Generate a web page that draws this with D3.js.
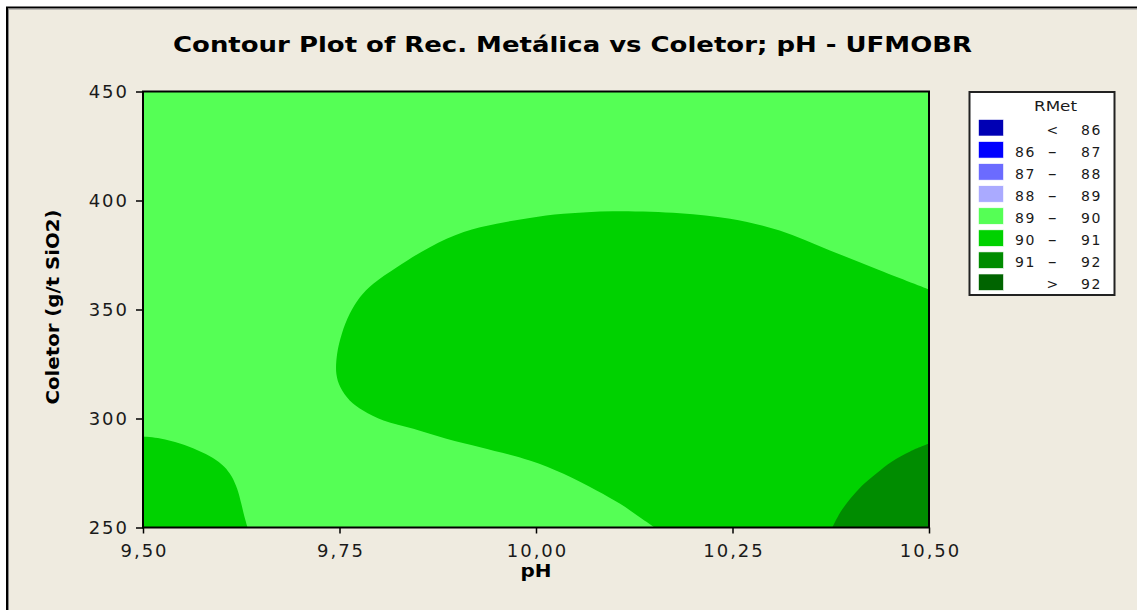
<!DOCTYPE html>
<html>
<head>
<meta charset="utf-8">
<script src="https://cdn.jsdelivr.net/npm/d3@7"></script>
<style>
  html, body { margin: 0; padding: 0; background: #ffffff; }
  svg { display: block; }
</style>
</head>
<body>
<svg id="chart" width="1137" height="610"></svg>
<script>
// ---- data -------------------------------------------------------------
const phTicks = [9.5, 9.75, 10.0, 10.25, 10.5];
const coletorTicks = [250, 300, 350, 400, 450];

// contour level breaks and the fill used for each band
const rmetBreaks = [86, 87, 88, 89, 90, 91, 92];
const rmetColors = ["#0000b4", "#0000ff", "#6b6bff", "#aaaaff",
                    "#55ff55", "#00d200", "#008c00", "#006400"];
const legendLow  = ["",  "86", "87", "88", "89", "90", "91", ""];
const legendSign = ["<", "–",  "–",  "–",  "–",  "–",  "–",  ">"];
const legendHigh = ["86", "87", "88", "89", "90", "91", "92", "92"];

// RMet value of the band that covers the rest of the plot
const baseLevel = 89.5;

// 90–91 band, lower-left corner: boundary [pH, coletor]
const band90LeftEdge = [
  [9.500, 291.7], [9.522, 290.8], [9.547, 288.5], [9.570, 285.3],
  [9.589, 281.9], [9.603, 278.0], [9.613, 273.3], [9.620, 267.5],
  [9.625, 261.0], [9.629, 255.0], [9.633, 250.0]
];
const band90LeftCorners = [[9.5, 250]];

// 90–91 band, large central lobe: boundary [pH, coletor]
const band90MainEdge = [
  [10.500, 359.2], [10.438, 367.9], [10.374, 377.1], [10.310, 386.2],
  [10.247, 391.6], [10.183, 394.2], [10.098, 395.1], [10.035, 393.9],
  [9.992, 392.0], [9.950, 389.3], [9.908, 385.5], [9.865, 378.6],
  [9.823, 369.4], [9.793, 361.8], [9.776, 355.6], [9.763, 348.0],
  [9.753, 338.9], [9.747, 329.7], [9.746, 320.5], [9.751, 314.4],
  [9.763, 308.3], [9.780, 303.7], [9.806, 299.1], [9.844, 295.3],
  [9.886, 290.7], [9.929, 286.8], [9.992, 280.7], [10.035, 274.6],
  [10.077, 267.0], [10.107, 260.9], [10.132, 254.7], [10.151, 250.0]
];
const band90MainCorners = [[10.5, 250]];

// 91–92 band, lower-right corner: boundary [pH, coletor]
const band91Edge = [
  [10.377, 250.0], [10.387, 256.9], [10.400, 263.3], [10.415, 269.3],
  [10.433, 274.8], [10.453, 280.3], [10.476, 284.9], [10.500, 288.5]
];
const band91Corners = [[10.5, 250]];

const bands = [
  { level: 90.5, edge: band90LeftEdge, corners: band90LeftCorners },
  { level: 90.5, edge: band90MainEdge, corners: band90MainCorners },
  { level: 91.5, edge: band91Edge,     corners: band91Corners }
];

// ---- layout -----------------------------------------------------------
const W = 1137, H = 610;
const plot = { left: 143, right: 929, top: 91.5, bottom: 527.5 };
const bg = "#efebe0";

const svg = d3.select("#chart");

// page frame
svg.append("rect")
  .attr("x", 7).attr("y", 7.5)
  .attr("width", W + 20).attr("height", H + 20)
  .attr("fill", bg)
  .attr("stroke", "#000").attr("stroke-width", 2);
svg.append("path")
  .attr("d", `M8.5,${H + 5}V9H${W + 5}`)
  .attr("fill", "none").attr("stroke", "#8a8a8a").attr("stroke-width", 1);

const x = d3.scaleLinear().domain([9.5, 10.5]).range([plot.left, plot.right]);
const y = d3.scaleLinear().domain([250, 450]).range([plot.bottom, plot.top]);
const color = d3.scaleThreshold().domain(rmetBreaks).range(rmetColors);

// title
svg.append("text")
  .attr("x", 173).attr("y", 52)
  .attr("textLength", 799).attr("lengthAdjust", "spacingAndGlyphs")
  .style("font-family", "'DejaVu Sans', Verdana, sans-serif")
  .style("font-weight", "bold").style("font-size", "22px")
  .attr("fill", "#000")
  .text("Contour Plot of Rec. Metálica vs Coletor; pH - UFMOBR");

// ---- contour fill -----------------------------------------------------
svg.append("clipPath").attr("id", "plot-clip")
  .append("rect")
  .attr("x", plot.left).attr("y", plot.top)
  .attr("width", plot.right - plot.left).attr("height", plot.bottom - plot.top);

const fillG = svg.append("g").attr("clip-path", "url(#plot-clip)");

fillG.append("rect")
  .attr("x", plot.left).attr("y", plot.top)
  .attr("width", plot.right - plot.left).attr("height", plot.bottom - plot.top)
  .attr("fill", color(baseLevel));

const edgeLine = d3.line()
  .x(d => x(d[0])).y(d => y(d[1]))
  .curve(d3.curveCatmullRom.alpha(0.5));

fillG.selectAll("path.band")
  .data(bands)
  .join("path")
  .attr("class", "band")
  .attr("fill", d => color(d.level))
  .attr("d", d => edgeLine(d.edge) +
    d.corners.map(c => `L${x(c[0])},${y(c[1])}`).join("") + "Z");

// ---- axes -------------------------------------------------------------
const tickFont = "'DejaVu Sans', Verdana, sans-serif";

const xAxis = svg.append("g")
  .attr("transform", `translate(0,${plot.bottom})`)
  .call(d3.axisBottom(x)
    .tickValues(phTicks)
    .tickSize(6).tickSizeOuter(0)
    .tickFormat(d => d3.format(".2f")(d).replace(".", ",")));
xAxis.select(".domain").remove();
xAxis.selectAll(".tick line").attr("stroke", "#000").attr("stroke-width", 1.5);
xAxis.selectAll(".tick text")
  .attr("y", 29.5).attr("dy", 0).attr("dx", 1)
  .attr("fill", "#1a1a1a")
  .style("font-family", tickFont).style("font-size", "18px")
  .style("letter-spacing", "2px");

const yAxis = svg.append("g")
  .attr("transform", `translate(${plot.left},0)`)
  .call(d3.axisLeft(y)
    .tickValues(coletorTicks)
    .tickSize(7).tickSizeOuter(0).tickPadding(7)
    .tickFormat(d3.format("d")));
yAxis.select(".domain").remove();
yAxis.selectAll(".tick line").attr("stroke", "#000").attr("stroke-width", 1.5);
yAxis.selectAll(".tick text")
  .attr("dy", "0.36em")
  .attr("fill", "#1a1a1a")
  .style("font-family", tickFont).style("font-size", "18px")
  .style("letter-spacing", "2px");

// plot frame
svg.append("rect")
  .attr("x", plot.left).attr("y", plot.top)
  .attr("width", plot.right - plot.left).attr("height", plot.bottom - plot.top)
  .attr("fill", "none").attr("stroke", "#000").attr("stroke-width", 2);

// axis titles
svg.append("text")
  .attr("x", (plot.left + plot.right) / 2).attr("y", 577)
  .attr("text-anchor", "middle")
  .attr("textLength", 31).attr("lengthAdjust", "spacingAndGlyphs")
  .style("font-family", tickFont).style("font-weight", "bold").style("font-size", "17px")
  .text("pH");

svg.append("text")
  .attr("transform", "translate(59,307) rotate(-90)")
  .attr("text-anchor", "middle")
  .attr("textLength", 195).attr("lengthAdjust", "spacingAndGlyphs")
  .style("font-family", tickFont).style("font-weight", "bold").style("font-size", "17px")
  .text("Coletor (g/t SiO2)");

// ---- legend -----------------------------------------------------------
const legend = svg.append("g");
legend.append("rect")
  .attr("x", 969.5).attr("y", 92).attr("width", 145).attr("height", 203)
  .attr("fill", "#ffffff").attr("stroke", "#222").attr("stroke-width", 2);

legend.append("text")
  .attr("x", 1055.5).attr("y", 111).attr("text-anchor", "middle")
  .attr("textLength", 43).attr("lengthAdjust", "spacingAndGlyphs")
  .style("font-family", tickFont).style("font-size", "14px")
  .attr("fill", "#1a1a1a")
  .text("RMet");

const rowStep = 22.07;
const rows = legend.selectAll("g.row")
  .data(rmetColors)
  .join("g")
  .attr("class", "row")
  .attr("transform", (d, i) => `translate(0,${i * rowStep})`);

rows.append("rect")
  .attr("x", 978.5).attr("y", 119.5).attr("width", 25).attr("height", 16.5)
  .attr("fill", d => d)
  .attr("stroke", "#ffffff").attr("stroke-width", 0.6);

const legendText = (sel) => sel
  .style("font-family", tickFont).style("font-size", "14px")
  .style("letter-spacing", "1.5px")
  .attr("fill", "#1a1a1a");

rows.append("text")
  .attr("x", 1015).attr("y", 134.5)
  .call(legendText)
  .text((d, i) => legendLow[i]);
rows.append("text")
  .attr("x", 1053).attr("y", 134.5).attr("text-anchor", "middle")
  .call(legendText)
  .style("font-size", (d, i) => legendSign[i] === "–" ? "17px" : "14px")
  .text((d, i) => legendSign[i]);
rows.append("text")
  .attr("x", 1081).attr("y", 134.5)
  .call(legendText)
  .text((d, i) => legendHigh[i]);
</script>
</body>
</html>
